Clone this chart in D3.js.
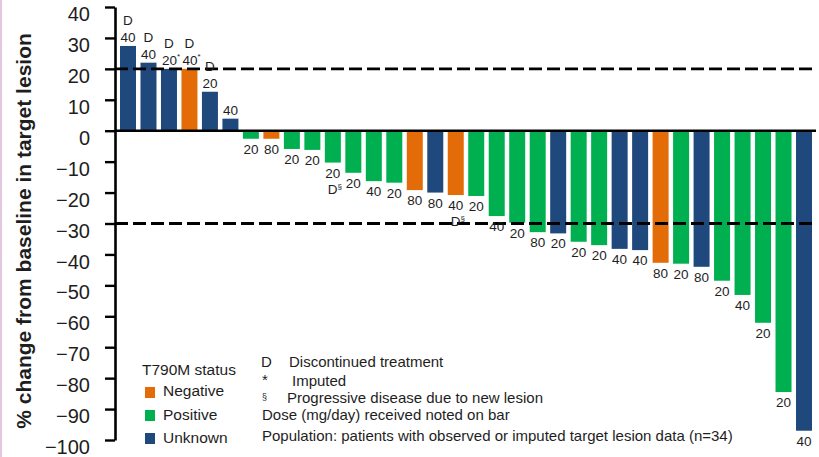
<!DOCTYPE html>
<html>
<head>
<meta charset="utf-8">
<script src="https://cdn.jsdelivr.net/npm/d3@7"></script>
<style>
  html, body { margin: 0; padding: 0; background: #fff; }
  svg { display: block; font-family: "Liberation Sans", Arial, sans-serif; }
</style>
</head>
<body>
<svg id="chart" width="819" height="457"></svg>
<script>
// Best % change in target lesion per patient, sorted from largest increase to largest decrease
const patients = d3.range(1, 35);
const change = [27.4, 22.0, 20, 20, 12.6, 3.9, -2.6, -2.6, -5.9, -6.2,
                -10.3, -13.6, -16.3, -16.8, -19.2, -20.0, -20.8, -21.1, -27.6, -29.7,
                -32.8, -33.2, -35.9, -37.0, -38.2, -38.6, -42.7, -43.0, -44.0, -48.5,
                -53.1, -62.1, -84.5, -97.0];
const status = ["Unknown", "Unknown", "Unknown", "Negative", "Unknown", "Unknown", "Positive", "Negative", "Positive", "Positive",
                "Positive", "Positive", "Positive", "Positive", "Negative", "Unknown", "Negative", "Positive", "Positive", "Positive",
                "Positive", "Unknown", "Positive", "Positive", "Unknown", "Unknown", "Negative", "Positive", "Unknown", "Positive",
                "Positive", "Positive", "Positive", "Unknown"];
const dose = [40, 40, 20, 40, 20, 40, 20, 80, 20, 20,
              20, 20, 40, 20, 80, 80, 40, 20, 40, 20,
              80, 20, 20, 20, 40, 40, 80, 20, 80, 20,
              40, 20, 20, 40];
const imputed = [3, 4];                  // patients whose value was imputed
const discontinued = [1, 2, 3, 4, 5];    // discontinued treatment
const progressiveNewLesion = [11, 17];   // discontinued, PD due to new lesion
const yTicks = d3.range(40, -101, -10);
const thresholds = [20, -30];
const statusKeys = ["Negative", "Positive", "Unknown"];
const statusColors = ["#E36C09", "#00B050", "#1F497D"];
const notes = ["Dose (mg/day) received noted on bar",
               "Population: patients with observed or imputed target lesion data (n=34)"];

const rows = patients.map((p, i) => ({
  id: p, value: change[i], status: status[i], dose: dose[i],
  imputed: imputed.includes(p),
  mark: progressiveNewLesion.includes(p) ? "D§" : (discontinued.includes(p) ? "D" : null)
}));

const svg = d3.select("#chart");
const textColor = "#1e1e1e";

// left frame accent
svg.append("rect").attr("x", 0).attr("y", 0).attr("width", 2).attr("height", 457).attr("fill", "#e3c6df");

const axisX = 115, plotRight = 816;
const y = d3.scaleLinear().domain([-100, 40]).range([440, 7]);
const x = d3.scaleBand().domain(patients).range([120, 812]).paddingInner(0.219).paddingOuter(0);
const color = d3.scaleOrdinal().domain(statusKeys).range(statusColors);

// bars
svg.append("g").selectAll("rect").data(rows).join("rect")
  .attr("x", d => x(d.id))
  .attr("width", x.bandwidth())
  .attr("y", d => Math.min(y(d.value), y(0)))
  .attr("height", d => Math.abs(y(d.value) - y(0)))
  .attr("fill", d => color(d.status));

// threshold lines
svg.append("g").selectAll("line").data(thresholds).join("line")
  .attr("x1", axisX).attr("x2", plotRight)
  .attr("y1", d => y(d)).attr("y2", d => y(d))
  .attr("stroke", "#000").attr("stroke-width", 2.8)
  .attr("stroke-dasharray", "13,5");

// zero line
svg.append("line").attr("x1", axisX).attr("x2", plotRight)
  .attr("y1", y(0)).attr("y2", y(0))
  .attr("stroke", "#000").attr("stroke-width", 2.6);

// y axis
const yAxis = svg.append("g").attr("transform", `translate(${axisX},0)`)
  .call(d3.axisLeft(y).tickValues(yTicks).tickSize(10).tickSizeOuter(0).tickPadding(15));
yAxis.select(".domain").attr("stroke", "#000").attr("stroke-width", 2.6);
yAxis.selectAll(".tick line").attr("stroke", "#000").attr("stroke-width", 2.4);
yAxis.selectAll(".tick text").attr("font-size", 20).attr("fill", textColor)
  .attr("font-family", "Liberation Sans, Arial, sans-serif").attr("dy", "0.68em");

// axis title
svg.append("text")
  .attr("transform", "translate(31,231) rotate(-90)")
  .attr("text-anchor", "middle").attr("font-size", 21).attr("font-weight", "bold")
  .attr("fill", textColor)
  .text("% change from baseline in target lesion");

// dose labels on bars
const lab = svg.append("g").attr("font-size", 13.5).attr("fill", textColor).attr("text-anchor", "middle");
rows.forEach(d => {
  const cx = x(d.id) + x.bandwidth() / 2;
  const by = d.value >= 0 ? y(d.value) - 4 : y(d.value) + 15;
  const t = lab.append("text").attr("x", cx + (d.imputed ? 2 : 0)).attr("y", by);
  t.append("tspan").text(d.dose);
  if (d.imputed) t.append("tspan").attr("font-size", 8).attr("dy", -6).text("*");
  if (d.mark) {
    const my = d.value >= 0 ? by - 17 : by + 16;
    const m = lab.append("text").attr("x", cx + (d.mark === "D§" ? 2 : 0)).attr("y", my);
    m.append("tspan").text("D");
    if (d.mark === "D§") m.append("tspan").attr("font-size", 8).attr("dy", -5).text("§");
  }
});

// status legend
const leg = svg.append("g").attr("fill", textColor).attr("font-size", 15.5);
leg.append("text").attr("x", 142).attr("y", 375).text("T790M status");
statusKeys.forEach((k, i) => {
  leg.append("rect").attr("x", 145).attr("y", 387 + i * 23).attr("width", 10).attr("height", 11).attr("fill", color(k));
  leg.append("text").attr("x", 163).attr("y", 396 + i * 23.5).text(k);
});

// footnotes
const fn = svg.append("g").attr("fill", textColor).attr("font-size", 15);
fn.append("text").attr("x", 261).attr("y", 367).text("D");
fn.append("text").attr("x", 289).attr("y", 367).text("Discontinued treatment");
fn.append("text").attr("x", 262).attr("y", 385).text("*");
fn.append("text").attr("x", 292).attr("y", 386).text("Imputed");
fn.append("text").attr("x", 262).attr("y", 400).attr("font-size", 9).text("§");
fn.append("text").attr("x", 287).attr("y", 403).text("Progressive disease due to new lesion");
notes.forEach((n, i) => fn.append("text").attr("x", 262).attr("y", 420 + i * 21).text(n));
</script>
</body>
</html>
